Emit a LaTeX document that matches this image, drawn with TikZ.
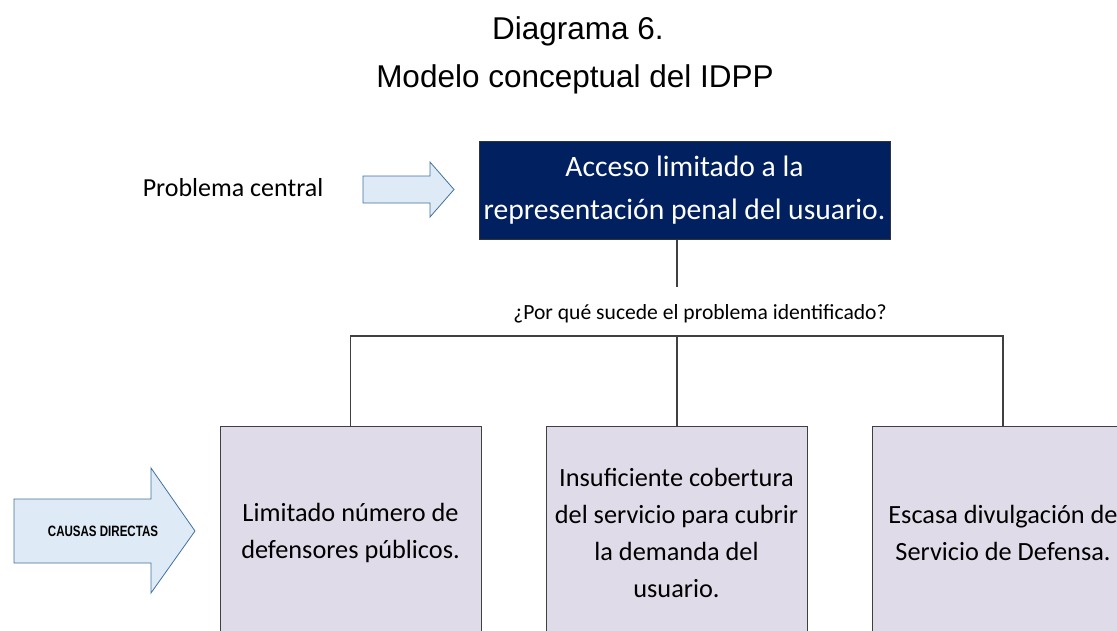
\documentclass[tikz,border=0pt]{standalone}
\usepackage{fontspec}
\setmainfont{Carlito}
\newfontfamily\arialfont{Liberation Sans}
\newfontfamily\narrowfont[FakeStretch=0.77]{Liberation Sans Bold}
\usetikzlibrary{calc}
\definecolor{idpp_navy}{RGB}{0, 32, 96}
\definecolor{idpp_lilac}{RGB}{224, 219, 232}
\definecolor{idpp_blue}{RGB}{222, 235, 247}
\definecolor{idpp_edge}{RGB}{65, 113, 156}
\definecolor{idpp_line}{RGB}{64, 64, 64}
\tikzstyle{pn}=[rectangle,fill=idpp_navy,draw=black!80,line width=1pt,text=white,
  align=center,minimum width=411pt,minimum height=98pt,font=\fontsize{29.6}{43}\selectfont]
\tikzstyle{cn}=[rectangle,fill=idpp_lilac,draw=idpp_line,line width=1pt,
  align=center,minimum width=261pt,minimum height=214pt,font=\fontsize{26.3}{37}\selectfont]
\tikzstyle{ar}=[fill=idpp_blue,draw=idpp_edge,line width=0.8pt,line join=miter]
\tikzstyle{none}=[]
\begin{document}
\begin{tikzpicture}[x=1pt,y=-1pt]
            \useasboundingbox (0, 0) rectangle (1117, 630);
            \clip (0, 0) rectangle (1117, 630);
            \node [style=none,anchor=base,font=\arialfont\fontsize{31.5}{38}\selectfont] (0) at (578, 39) {Diagrama 6.};
            \node [style=none,anchor=base,font=\arialfont\fontsize{31.5}{38}\selectfont] (1) at (575, 87) {Modelo conceptual del IDPP};
            \node [style=none,anchor=base,font=\fontsize{26}{31}\selectfont] (2) at (233, 196) {Problema central};
            \node [style=pn] (3) at (684.5, 190) {Acceso limitado a la\\representación penal del usuario.};
            \node [style=none,anchor=base,font=\fontsize{21.6}{26}\selectfont] (4) at (700, 319) {¿Por qué sucede el problema identificado?};
            \node [style=cn] (5) at (350.5, 533) {Limitado número de\\defensores públicos.};
            \node [style=cn] (6) at (676.5, 533) {Insuficiente cobertura\\del servicio para cubrir\\la demanda del\\usuario.};
            \node [style=cn] (7) at (1003, 533) {Escasa divulgación de\\Servicio de Defensa.};
            \coordinate (8) at (677, 336);
            \coordinate (10) at (677, 287);
            \draw [style=ar] (363, 176) -- (430, 176) -- (430, 162) -- (454, 189.5) -- (430, 217) -- (430, 203) -- (363, 203) -- cycle;
            \draw [style=ar] (14, 499) -- (151, 499) -- (151, 468) -- (195, 531) -- (151, 593) -- (151, 563) -- (14, 563) -- cycle;
            \node [style=none,font=\narrowfont\fontsize{15}{18}\selectfont] (9) at (103, 531) {CAUSAS DIRECTAS};
            \draw [idpp_line,line width=1.2pt] (3.south -| 10) to (10);
            \draw [idpp_line,line width=1.2pt] (8) to (8 |- 6.north);
            \draw [idpp_line,line width=1.2pt] (5.north) |- (8) -| (7.north);
    \end{tikzpicture}
\end{document}
